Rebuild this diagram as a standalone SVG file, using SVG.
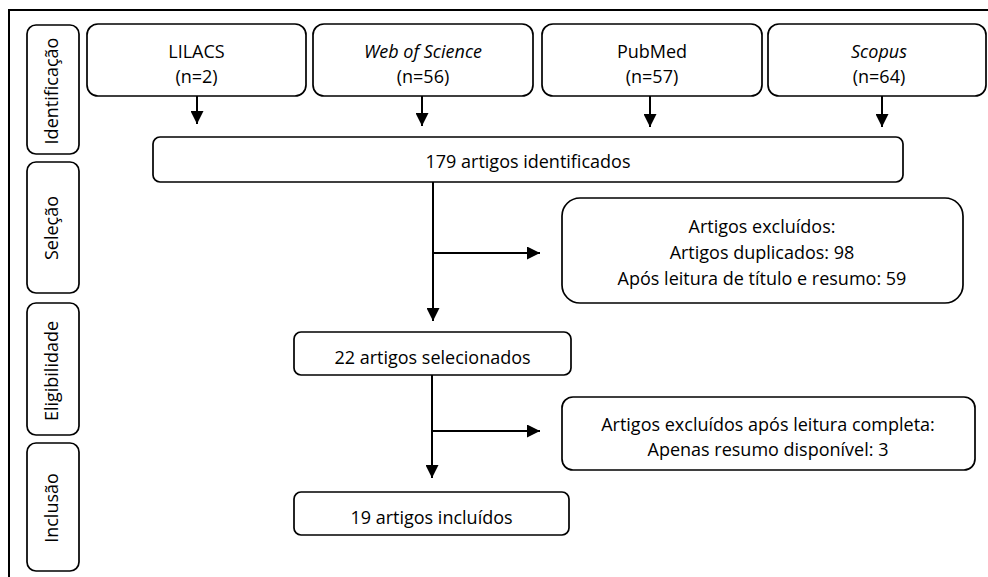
<svg xmlns="http://www.w3.org/2000/svg" width="988" height="577" viewBox="0 0 988 577">
<style>
.box{fill:#fff;stroke:#000;stroke-width:1.7}
.t{font-family:"Open Sans","Liberation Sans",sans-serif;font-size:18px;fill:#000;text-anchor:middle}
.i{font-style:italic}
.ln{fill:none;stroke:#000;stroke-width:2}
</style>
<defs>
<marker id="ah" markerWidth="13" markerHeight="13" refX="13" refY="6.5" orient="auto" markerUnits="userSpaceOnUse">
<path d="M0,0 L13,6.5 L0,13 Z" fill="#000"/>
</marker>
</defs>
<rect width="988" height="577" fill="#fff"/>
<path d="M9,577 V10 H988" class="ln"/>
<g id="fase-identificacao"><rect class="box" x="27" y="25" width="52" height="129" rx="9"/><text class="t" transform="translate(58,91) rotate(-90)">Identificação</text></g>
<g id="fase-selecao"><rect class="box" x="27" y="162" width="52" height="131" rx="9"/><text class="t" transform="translate(58,228) rotate(-90)">Seleção</text></g>
<g id="fase-elegibilidade"><rect class="box" x="27" y="303" width="52" height="132" rx="9"/><text class="t" transform="translate(58,371) rotate(-90)">Eligibilidade</text></g>
<g id="fase-inclusao"><rect class="box" x="27" y="443" width="52" height="128" rx="9"/><text class="t" transform="translate(58,508) rotate(-90)">Inclusão</text></g>
<g id="lilacs"><rect class="box" x="87" y="24" width="219" height="72" rx="11"/><text class="t" x="196.5" y="58">LILACS</text><text class="t" x="196.5" y="83">(n=2)</text></g>
<g id="wos"><rect class="box" x="313" y="24" width="220" height="72" rx="11"/><text class="t i" x="423" y="58">Web of Science</text><text class="t" x="423" y="83">(n=56)</text></g>
<g id="pubmed"><rect class="box" x="542" y="24" width="220" height="72" rx="11"/><text class="t" x="652" y="58">PubMed</text><text class="t" x="652" y="83">(n=57)</text></g>
<g id="scopus"><rect class="box" x="768" y="24" width="218" height="72" rx="11"/><text class="t i" x="879" y="58">Scopus</text><text class="t" x="879" y="83">(n=64)</text></g>
<g id="identificados"><rect class="box" x="153" y="137" width="750" height="45" rx="7"/><text class="t" x="528" y="168">179 artigos identificados</text></g>
<g id="excluidos1"><rect class="box" x="562" y="198" width="401" height="105" rx="18"/><text class="t" x="762" y="233">Artigos excluídos:</text><text class="t" x="762" y="259">Artigos duplicados: 98</text><text class="t" x="762" y="285">Após leitura de título e resumo: 59</text></g>
<g id="selecionados"><rect class="box" x="294" y="332" width="277" height="43" rx="7"/><text class="t" x="432.5" y="364">22 artigos selecionados</text></g>
<g id="excluidos2"><rect class="box" x="562" y="397" width="413" height="73" rx="11"/><text class="t" x="768" y="431">Artigos excluídos após leitura completa:</text><text class="t" x="768" y="456">Apenas resumo disponível: 3</text></g>
<g id="incluidos"><rect class="box" x="294" y="492" width="275" height="43" rx="7"/><text class="t" x="431.5" y="524">19 artigos incluídos</text></g>
<g id="connectors">
<line class="ln" x1="197" y1="96" x2="197" y2="124" marker-end="url(#ah)"/>
<line class="ln" x1="422" y1="96" x2="422" y2="126" marker-end="url(#ah)"/>
<line class="ln" x1="650" y1="96" x2="650" y2="127" marker-end="url(#ah)"/>
<line class="ln" x1="882" y1="96" x2="882" y2="127" marker-end="url(#ah)"/>
<line class="ln" x1="433" y1="182" x2="433" y2="321" marker-end="url(#ah)"/>
<line class="ln" x1="433" y1="253" x2="540" y2="253" marker-end="url(#ah)"/>
<line class="ln" x1="432" y1="375" x2="432" y2="478" marker-end="url(#ah)"/>
<line class="ln" x1="432" y1="431" x2="540" y2="431" marker-end="url(#ah)"/>
</g>
</svg>
